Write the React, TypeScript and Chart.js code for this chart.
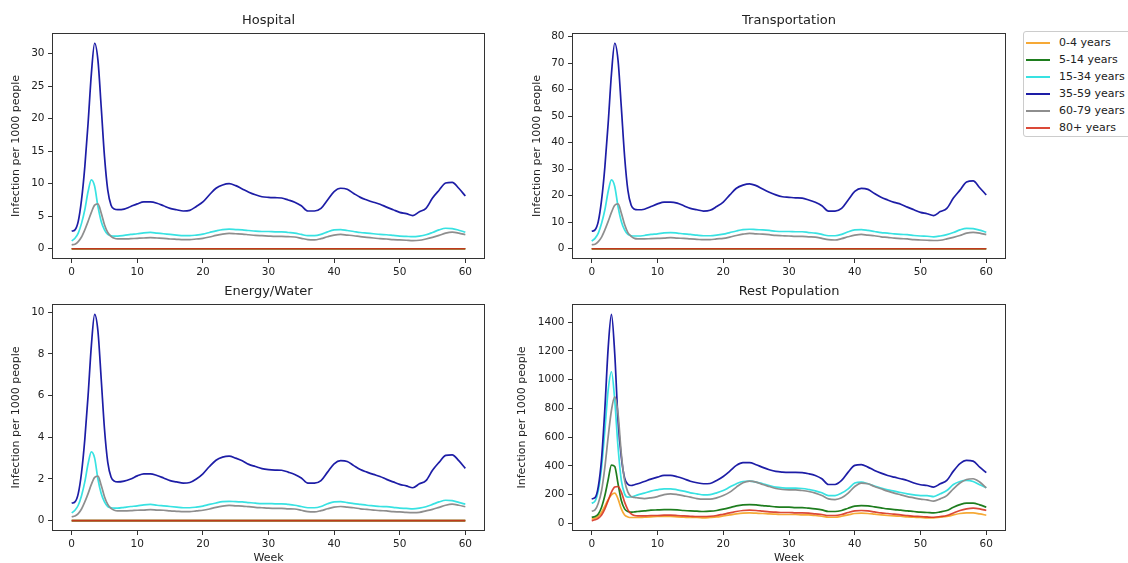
import React, { useEffect, useRef } from "react";
import { Chart, registerables } from "chart.js";

Chart.register(...registerables);

// ---------- data ----------
const WEEKS = [0, 0.5, 1, 1.5, 2, 2.5, 3, 3.5, 4, 4.5, 5, 5.5, 6, 6.5,
  7, 8, 9, 10, 11, 12, 13, 14, 15, 16, 17, 18, 19, 20, 21, 22, 23, 24, 25, 26, 27, 28, 29, 30,
  31, 32, 33, 34, 35, 36, 37, 38, 39, 40, 41, 42, 43, 44, 45, 46, 47, 48, 49, 50, 51, 52, 53, 54,
  55, 56, 57, 58, 59, 60];

const AGE_GROUPS = ["0-4 years", "5-14 years", "15-34 years", "35-59 years", "60-79 years", "80+ years"];
const COLORS = ["#f6a936", "#1e7d1e", "#38e2e2", "#1d1da6", "#8e8e8e", "rgba(214,48,28,0.88)"];

const X_TICKS = [0, 10, 20, 30, 40, 50, 60];
const HOSPITAL_Y_TICKS = [0, 5, 10, 15, 20, 25, 30];
const TRANSPORT_Y_TICKS = [0, 10, 20, 30, 40, 50, 60, 70, 80];
const ENERGY_Y_TICKS = [0, 2, 4, 6, 8, 10];
const REST_Y_TICKS = [0, 200, 400, 600, 800, 1000, 1200, 1400];

const ZERO = [0, 0, 0, 0, 0, 0, 0, 0, 0, 0, 0, 0, 0, 0,
  0, 0, 0, 0, 0, 0, 0, 0, 0, 0, 0, 0, 0, 0, 0, 0, 0, 0, 0, 0, 0, 0, 0, 0, 0, 0, 0, 0, 0, 0,
  0, 0, 0, 0, 0, 0, 0, 0, 0, 0, 0, 0, 0, 0, 0, 0, 0, 0, 0, 0, 0, 0, 0, 0];

const HOSPITAL_15_34 = [1.2, 1.6, 2.4, 3.9, 6.0, 8.8, 10.6, 9.6, 6.5, 4.2, 2.9, 2.2, 2.0, 1.95,
  1.95, 2.05, 2.2, 2.3, 2.45, 2.5, 2.4, 2.3, 2.2, 2.1, 2.0, 2.0, 2.1, 2.25, 2.5, 2.75, 2.95, 3.0, 2.95, 2.9,
  2.8, 2.7, 2.65, 2.65, 2.6, 2.6, 2.5, 2.4, 2.2, 2.0, 2.0, 2.2, 2.6, 2.9, 2.95, 2.8, 2.65, 2.5, 2.4, 2.3,
  2.2, 2.15, 2.05, 1.95, 1.9, 1.85, 1.95, 2.15, 2.5, 2.9, 3.15, 3.1, 2.85, 2.55];
const HOSPITAL_35_59 = [2.7, 2.9, 4.2, 7.5, 12.6, 19.3, 26.9, 31.6, 29.0, 21.8, 14.2, 9.0, 6.7, 6.1,
  6.0, 6.1, 6.5, 6.9, 7.2, 7.2, 7.0, 6.6, 6.2, 6.0, 5.8, 5.9, 6.5, 7.2, 8.3, 9.3, 9.8, 10.0, 9.7, 9.2,
  8.7, 8.3, 8.0, 7.9, 7.85, 7.8, 7.5, 7.15, 6.6, 5.8, 5.8, 6.2, 7.5, 8.8, 9.3, 9.15, 8.5, 7.9, 7.5, 7.15,
  6.85, 6.4, 6.0, 5.6, 5.4, 5.1, 5.7, 6.2, 7.8, 9.0, 10.1, 10.2, 9.3, 8.1];
const HOSPITAL_60_79 = [0.6, 0.7, 1.1, 1.8, 2.9, 4.2, 5.6, 6.7, 6.9, 5.5, 3.7, 2.5, 1.9, 1.6,
  1.5, 1.5, 1.55, 1.6, 1.65, 1.7, 1.65, 1.6, 1.5, 1.45, 1.4, 1.4, 1.5, 1.6, 1.8, 2.05, 2.25, 2.35, 2.3, 2.25,
  2.15, 2.05, 2.0, 1.95, 1.9, 1.9, 1.85, 1.8, 1.6, 1.4, 1.35, 1.55, 1.85, 2.1, 2.2, 2.1, 2.0, 1.85, 1.75, 1.65,
  1.55, 1.5, 1.4, 1.35, 1.3, 1.25, 1.3, 1.5, 1.75, 2.05, 2.4, 2.55, 2.4, 2.15];

const TRANSPORT_15_34 = [2.9, 3.9, 5.9, 9.6, 14.7, 21.6, 26.0, 23.5, 15.9, 10.3, 7.1, 5.4, 4.9, 4.8,
  4.8, 5.0, 5.4, 5.6, 6.0, 6.1, 5.9, 5.6, 5.4, 5.1, 4.9, 4.9, 5.1, 5.5, 6.1, 6.7, 7.2, 7.35, 7.2, 7.1,
  6.9, 6.6, 6.5, 6.5, 6.4, 6.4, 6.1, 5.9, 5.4, 4.9, 4.9, 5.4, 6.4, 7.1, 7.2, 6.9, 6.5, 6.1, 5.9, 5.6,
  5.4, 5.3, 5.0, 4.8, 4.7, 4.5, 4.8, 5.3, 6.1, 7.1, 7.7, 7.6, 7.0, 6.2];
const TRANSPORT_35_59 = [6.6, 7.1, 10.3, 18.4, 30.9, 47.3, 65.9, 77.5, 71.1, 53.4, 34.8, 22.0, 16.4, 14.9,
  14.7, 14.9, 15.9, 16.9, 17.6, 17.6, 17.2, 16.2, 15.2, 14.7, 14.2, 14.5, 15.9, 17.6, 20.3, 22.8, 24.0, 24.5, 23.8, 22.5,
  21.3, 20.3, 19.6, 19.4, 19.2, 19.1, 18.4, 17.5, 16.2, 14.2, 14.2, 15.2, 18.4, 21.6, 22.8, 22.4, 20.8, 19.4, 18.4, 17.5,
  16.8, 15.7, 14.7, 13.7, 13.2, 12.5, 14.0, 15.2, 19.1, 22.1, 25.2, 25.6, 23.0, 20.3];
const TRANSPORT_60_79 = [1.5, 1.7, 2.7, 4.4, 7.1, 10.3, 13.7, 16.4, 16.9, 13.5, 9.1, 6.1, 4.7, 3.9,
  3.7, 3.7, 3.8, 3.9, 4.0, 4.2, 4.0, 3.9, 3.7, 3.55, 3.4, 3.4, 3.7, 3.9, 4.4, 5.0, 5.5, 5.8, 5.6, 5.5,
  5.3, 5.0, 4.9, 4.8, 4.65, 4.65, 4.5, 4.4, 3.9, 3.4, 3.3, 3.8, 4.5, 5.1, 5.4, 5.1, 4.9, 4.5, 4.3, 4.0,
  3.8, 3.7, 3.4, 3.3, 3.2, 3.1, 3.2, 3.7, 4.3, 5.0, 5.9, 6.2, 5.9, 5.3];

const ENERGY_15_34 = [0.37, 0.5, 0.74, 1.2, 1.86, 2.73, 3.3, 3.0, 2.0, 1.3, 0.9, 0.68, 0.62, 0.6,
  0.6, 0.64, 0.68, 0.71, 0.76, 0.78, 0.74, 0.71, 0.68, 0.65, 0.62, 0.62, 0.65, 0.7, 0.78, 0.85, 0.91, 0.93, 0.91, 0.9,
  0.87, 0.84, 0.82, 0.82, 0.81, 0.81, 0.78, 0.74, 0.68, 0.62, 0.62, 0.68, 0.81, 0.9, 0.91, 0.87, 0.82, 0.78, 0.74, 0.71,
  0.68, 0.67, 0.64, 0.6, 0.59, 0.57, 0.6, 0.67, 0.78, 0.9, 0.98, 0.96, 0.88, 0.79];
const ENERGY_35_59 = [0.84, 0.9, 1.3, 2.3, 3.9, 6.0, 8.4, 9.9, 9.1, 6.8, 4.4, 2.8, 2.1, 1.9,
  1.86, 1.9, 2.0, 2.15, 2.25, 2.25, 2.17, 2.05, 1.92, 1.86, 1.8, 1.83, 2.0, 2.25, 2.6, 2.9, 3.05, 3.1, 3.0, 2.87,
  2.7, 2.6, 2.5, 2.45, 2.43, 2.42, 2.33, 2.22, 2.05, 1.8, 1.8, 1.92, 2.33, 2.73, 2.88, 2.84, 2.64, 2.45, 2.33, 2.22,
  2.12, 1.98, 1.86, 1.74, 1.67, 1.58, 1.77, 1.92, 2.42, 2.8, 3.13, 3.16, 2.88, 2.51];
const ENERGY_60_79 = [0.19, 0.22, 0.34, 0.56, 0.9, 1.3, 1.74, 2.08, 2.14, 1.7, 1.15, 0.78, 0.59, 0.5,
  0.47, 0.47, 0.48, 0.5, 0.51, 0.53, 0.51, 0.5, 0.47, 0.45, 0.43, 0.43, 0.47, 0.5, 0.56, 0.64, 0.7, 0.73, 0.71, 0.7,
  0.67, 0.64, 0.62, 0.6, 0.59, 0.59, 0.57, 0.56, 0.5, 0.43, 0.42, 0.48, 0.57, 0.65, 0.68, 0.65, 0.62, 0.57, 0.54, 0.51,
  0.48, 0.47, 0.43, 0.42, 0.4, 0.39, 0.4, 0.47, 0.54, 0.64, 0.74, 0.79, 0.74, 0.67];

const REST_0_4 = [30, 35, 49, 77, 119, 165, 198, 210, 170, 100, 58, 44, 40, 40,
  40, 42, 44, 47, 47, 47, 44, 42, 40, 40, 37, 40, 44, 51, 58, 65, 70, 72, 70, 68,
  65, 63, 61, 61, 61, 58, 58, 54, 49, 42, 42, 49, 58, 68, 70, 68, 63, 58, 54, 51,
  49, 44, 42, 40, 37, 37, 42, 47, 58, 68, 72, 72, 65, 56];
const REST_5_14 = [42, 47, 65, 112, 193, 303, 405, 395, 275, 158, 100, 82, 77, 79,
  82, 86, 91, 93, 95, 95, 93, 89, 86, 84, 82, 84, 89, 98, 109, 121, 128, 130, 128, 123,
  119, 114, 112, 112, 109, 109, 105, 100, 93, 82, 82, 89, 105, 119, 123, 121, 114, 107, 100, 95,
  91, 86, 82, 77, 75, 72, 79, 89, 112, 130, 140, 140, 128, 112];
const REST_15_34 = [140, 154, 228, 391, 648, 927, 1055, 857, 531, 298, 205, 182, 183, 190,
  198, 210, 224, 233, 240, 240, 233, 224, 212, 205, 198, 200, 212, 228, 252, 275, 291, 293, 287, 275,
  263, 252, 247, 245, 245, 242, 235, 226, 212, 193, 193, 210, 240, 280, 287, 275, 259, 245, 233, 224,
  214, 205, 198, 193, 193, 186, 205, 228, 270, 291, 298, 291, 268, 247];
const REST_35_59 = [170, 178, 255, 450, 800, 1220, 1455, 1180, 720, 460, 315, 272, 263, 268,
  275, 291, 307, 321, 333, 333, 324, 310, 293, 282, 275, 277, 298, 326, 363, 403, 422, 422, 408, 389,
  373, 361, 356, 354, 354, 352, 345, 333, 310, 270, 270, 298, 356, 403, 408, 391, 368, 349, 333, 321,
  310, 298, 280, 268, 263, 252, 275, 298, 363, 415, 438, 433, 391, 352];
const REST_60_79 = [84, 93, 140, 228, 391, 601, 787, 880, 764, 484, 298, 217, 186, 180,
  177, 172, 177, 186, 200, 205, 200, 191, 182, 172, 168, 168, 177, 193, 217, 252, 282, 293, 287, 270,
  256, 242, 235, 233, 233, 228, 221, 210, 193, 170, 165, 177, 210, 256, 280, 275, 256, 240, 224, 210,
  198, 186, 177, 168, 163, 154, 170, 193, 240, 280, 305, 310, 287, 247];
const REST_80_PLUS = [18, 24, 35, 58, 100, 158, 217, 252, 256, 217, 147, 93, 65, 54,
  51, 51, 54, 54, 56, 56, 54, 51, 49, 47, 47, 49, 54, 63, 72, 82, 89, 91, 89, 84,
  79, 77, 75, 75, 72, 72, 70, 65, 61, 54, 54, 61, 75, 86, 89, 86, 79, 72, 68, 63,
  58, 54, 49, 47, 44, 42, 47, 54, 72, 89, 100, 105, 100, 89];

const Y_LABEL = "Infection per 1000 people";
const X_LABEL = "Week";

// ---------- styles / layout ----------
const FONT = "'DejaVu Sans', sans-serif";
const TEXT = "#222222";
const FRAME = "#333333";
const RIGHT_PAD = 3;

const PANELS = [
  {
    title: "Hospital",
    series: [ZERO, ZERO, HOSPITAL_15_34, HOSPITAL_35_59, HOSPITAL_60_79, ZERO],
    yTicks: HOSPITAL_Y_TICKS, showX: false,
    left: 10, top: 13, width: 478, height: 271, yAxisW: 42, xAxisH: 25,
  },
  {
    title: "Transportation",
    series: [ZERO, ZERO, TRANSPORT_15_34, TRANSPORT_35_59, TRANSPORT_60_79, ZERO],
    yTicks: TRANSPORT_Y_TICKS, showX: false,
    left: 531, top: 13, width: 478, height: 271, yAxisW: 41, xAxisH: 25,
  },
  {
    title: "Energy/Water",
    series: [ZERO, ZERO, ENERGY_15_34, ENERGY_35_59, ENERGY_60_79, ZERO],
    yTicks: ENERGY_Y_TICKS, showX: true,
    left: 10, top: 284, width: 478, height: 281, yAxisW: 42, xAxisH: 34,
  },
  {
    title: "Rest Population",
    series: [REST_0_4, REST_5_14, REST_15_34, REST_35_59, REST_60_79, REST_80_PLUS],
    yTicks: REST_Y_TICKS, showX: true,
    left: 516, top: 284, width: 493, height: 281, yAxisW: 56, xAxisH: 34,
  },
];

const framePlugin = {
  id: "frameBox",
  afterDraw(chart: any) {
    const { ctx, chartArea: a } = chart;
    ctx.save();
    ctx.strokeStyle = FRAME;
    ctx.lineWidth = 1;
    const l = Math.round(a.left), t = Math.round(a.top);
    const r = Math.round(a.right), b = Math.round(a.bottom);
    ctx.strokeRect(l + 0.5, t + 0.5, r - l - 1, b - t - 1);
    ctx.restore();
  },
};

function Panel({ p }: { p: any }) {
  const ref = useRef<HTMLCanvasElement | null>(null);

  useEffect(() => {
    if (!ref.current) return;
    const all: number[] = ([] as number[]).concat(...p.series);
    const lo = Math.min(...all);
    const hi = Math.max(...all);
    const yPad = (hi - lo) * 0.05;
    const xlo = WEEKS[0];
    const xhi = WEEKS[WEEKS.length - 1];
    const xPad = (xhi - xlo) * 0.05;

    const tickFont = { family: FONT, size: 10.5 };
    const labelFont = { family: FONT, size: 11 };

    const chart = new Chart(ref.current, {
      type: "line",
      data: {
        datasets: AGE_GROUPS.map((name, i) => ({
          label: name,
          data: WEEKS.map((w, j) => ({ x: w, y: p.series[i][j] })),
          borderColor: COLORS[i],
          backgroundColor: COLORS[i],
          borderWidth: 1.7,
          pointRadius: 0,
          fill: false,
          cubicInterpolationMode: "monotone",
          order: AGE_GROUPS.length - i,
        })),
      },
      options: {
        responsive: false,
        animation: false,
        devicePixelRatio: 1,
        events: [],
        layout: { padding: { left: 0, right: RIGHT_PAD, top: 0, bottom: 0 } },
        plugins: {
          legend: { display: false },
          tooltip: { enabled: false },
          title: {
            display: true,
            text: p.title,
            fullSize: false,
            color: TEXT,
            font: { family: FONT, size: 13, weight: "normal", lineHeight: 1.2 },
            padding: { top: 0, bottom: 4.4 },
          },
        },
        scales: {
          x: {
            type: "linear",
            min: xlo - xPad,
            max: xhi + xPad,
            afterBuildTicks: (s: any) => {
              s.ticks = X_TICKS.map((v) => ({ value: v }));
            },
            afterFit: (s: any) => {
              s.height = p.xAxisH;
            },
            ticks: {
              color: TEXT, font: tickFont, padding: 2.5, maxRotation: 0, autoSkip: false,
              callback: (v: any) => String(v),
            },
            grid: { display: true, drawOnChartArea: false, drawTicks: true, tickLength: 4, color: FRAME, lineWidth: 1 },
            border: { display: false },
            title: { display: p.showX, text: X_LABEL, color: TEXT, font: labelFont, padding: 0 },
          },
          y: {
            type: "linear",
            min: lo - yPad,
            max: hi + yPad,
            afterBuildTicks: (s: any) => {
              s.ticks = p.yTicks.map((v: number) => ({ value: v }));
            },
            afterFit: (s: any) => {
              s.width = p.yAxisW;
            },
            ticks: {
              color: TEXT, font: tickFont, padding: 3.5, autoSkip: false,
              callback: (v: any) => String(v),
            },
            grid: { display: true, drawOnChartArea: false, drawTicks: true, tickLength: 4, color: FRAME, lineWidth: 1 },
            border: { display: false },
            title: { display: true, text: Y_LABEL, color: TEXT, font: labelFont, padding: { top: 0, bottom: 0 } },
          },
        },
      } as any,
      plugins: [framePlugin],
    } as any);

    return () => chart.destroy();
  }, [p]);

  return (
    <canvas
      ref={ref}
      width={p.width}
      height={p.height}
      style={{ position: "absolute", left: p.left, top: p.top, width: p.width, height: p.height }}
    />
  );
}

function Legend() {
  const boxLeft = 1023;
  const boxTop = 31;
  return (
    <div
      style={{
        position: "absolute",
        left: boxLeft,
        top: boxTop,
        width: 120,
        height: 106,
        border: "1px solid #cccccc",
        borderRadius: 3,
        background: "#ffffff",
        boxSizing: "border-box",
      }}
    >
      {AGE_GROUPS.map((name, i) => (
        <div
          key={name}
          style={{ position: "absolute", left: 0, top: 2 + i * 17, height: 17, width: 120 }}
        >
          <div
            style={{
              position: "absolute", left: 2, top: 7.5, width: 24, height: 2,
              background: COLORS[i],
            }}
          />
          <div
            style={{
              position: "absolute", left: 35, top: 0, height: 17, lineHeight: "17px",
              fontFamily: FONT, fontSize: 11, color: TEXT, whiteSpace: "nowrap",
            }}
          >
            {name}
          </div>
        </div>
      ))}
    </div>
  );
}

export default function App() {
  return (
    <div
      style={{
        position: "absolute", left: 0, top: 0, width: 1128, height: 563,
        overflow: "hidden", background: "#ffffff",
      }}
    >
      {PANELS.map((p) => (
        <Panel key={p.title} p={p} />
      ))}
      <Legend />
    </div>
  );
}
